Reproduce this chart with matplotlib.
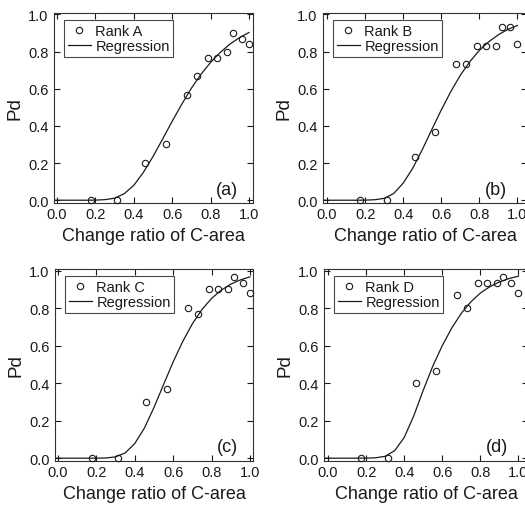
import matplotlib
matplotlib.use("Agg")
import matplotlib.pyplot as plt

# change ratio of C-area for the measured points (same for every rank)
x_ratio = [0.175, 0.315, 0.46, 0.567, 0.676, 0.73, 0.785, 0.833, 0.885, 0.917, 0.962, 1.0]

pd_a = [0.0, 0.0, 0.2, 0.3, 0.567, 0.667, 0.767, 0.767, 0.8, 0.9, 0.867, 0.84]
pd_b = [0.0, 0.0, 0.233, 0.367, 0.733, 0.733, 0.833, 0.833, 0.833, 0.933, 0.933, 0.84]
pd_c = [0.0, 0.0, 0.3, 0.367, 0.8, 0.767, 0.9, 0.9, 0.9, 0.967, 0.933, 0.88]
pd_d = [0.0, 0.0, 0.4, 0.467, 0.867, 0.8, 0.933, 0.933, 0.933, 0.967, 0.933, 0.88]

# regression curves
curve_x = [-0.02, 0.05, 0.10, 0.15, 0.20, 0.25, 0.30, 0.35, 0.40, 0.45, 0.50,
           0.55, 0.60, 0.65, 0.70, 0.75, 0.80, 0.85, 0.90, 0.95, 1.00]
fit_a = [0, 0, 0, 0, 0.0005, 0.003, 0.011, 0.035, 0.08, 0.15, 0.235,
         0.329, 0.425, 0.517, 0.603, 0.678, 0.742, 0.795, 0.840, 0.875, 0.903]
fit_b = [0, 0, 0, 0, 0.0004, 0.0025, 0.01, 0.036, 0.092, 0.172, 0.272,
         0.380, 0.486, 0.585, 0.673, 0.746, 0.807, 0.854, 0.891, 0.920, 0.941]
fit_c = [0, 0, 0, 0, 0.0001, 0.001, 0.007, 0.028, 0.078, 0.16, 0.27,
         0.392, 0.513, 0.622, 0.716, 0.792, 0.851, 0.895, 0.927, 0.950, 0.966]
fit_d = [0, 0, 0, 0, 0.0003, 0.002, 0.01, 0.04, 0.11, 0.225, 0.362,
         0.49, 0.600, 0.694, 0.772, 0.833, 0.880, 0.914, 0.939, 0.957, 0.970]

ranks = ["Rank A", "Rank B", "Rank C", "Rank D"]
tags = ["(a)", "(b)", "(c)", "(d)"]
ticks = [0.0, 0.2, 0.4, 0.6, 0.8, 1.0]

plt.rcParams["font.family"] = ["Liberation Sans", "DejaVu Sans"]
INK = "#1a1a1a"


def draw_panel(ax, pts, fit, rank, tag, xlim):
    ax.plot(x_ratio, pts, "o", mfc="none", mec=INK, mew=0.8, ms=4.6,
            label=rank, clip_on=False, zorder=3)
    ax.plot(curve_x, fit, "-", color=INK, lw=0.9, label="Regression")
    ax.set_xlim(*xlim)
    ax.set_ylim(-0.015, 1.008)
    ax.set_xticks(ticks)
    ax.set_yticks(ticks)
    ax.set_xticklabels([f"{t:.1f}" for t in ticks])
    ax.set_yticklabels([f"{t:.1f}" for t in ticks])
    ax.tick_params(direction="in", top=True, right=True, length=4.5, width=0.8,
                   labelsize=10.5, colors=INK)
    ax.tick_params(axis="x", pad=3)
    ax.tick_params(axis="y", pad=4)
    for sp in ax.spines.values():
        sp.set_color("#333333")
        sp.set_linewidth(0.8)
    ax.set_xlabel("Change ratio of C-area", fontsize=13, color=INK, labelpad=4)
    ax.set_ylabel("Pd", fontsize=13.5, color=INK, labelpad=3)
    # legend box sits a fixed pixel offset from the top-left corner
    l_frac = 10.0 / (ax.get_position().width * 525.0)
    leg = ax.legend(loc="upper left", bbox_to_anchor=(l_frac, 0.963), borderaxespad=0,
                    fontsize=10.5, frameon=True, fancybox=False, handlelength=1.6,
                    handletextpad=0.3, borderpad=0.25, labelspacing=0.1)
    leg.get_frame().set_edgecolor(INK)
    leg.get_frame().set_linewidth(0.8)
    for t in leg.get_texts():
        t.set_color(INK)
    ax.text(0.885, 0.06, tag, ha="center", va="center", fontsize=13, color=INK)


fig = plt.figure(figsize=(5.25, 5.1), dpi=100)
W, H = 525.0, 510.0
# right-hand panels run off the right edge of the picture, as in the source
boxes = [(54, 14, 199, 190), (323, 14, 204, 190), (55, 270, 198, 192), (324, 270, 204, 192)]
limits = [(-0.0156, 1.021), (-0.021, 1.05), (-0.0156, 1.016), (-0.021, 1.05)]
series = [(pd_a, fit_a), (pd_b, fit_b), (pd_c, fit_c), (pd_d, fit_d)]

for (l, t, w, h), xl, (pts, fit), rank, tag in zip(boxes, limits, series, ranks, tags):
    ax = fig.add_axes([l / W, (H - t - h) / H, w / W, h / H])
    draw_panel(ax, pts, fit, rank, tag, xl)

fig.savefig("out.png", dpi=100)
